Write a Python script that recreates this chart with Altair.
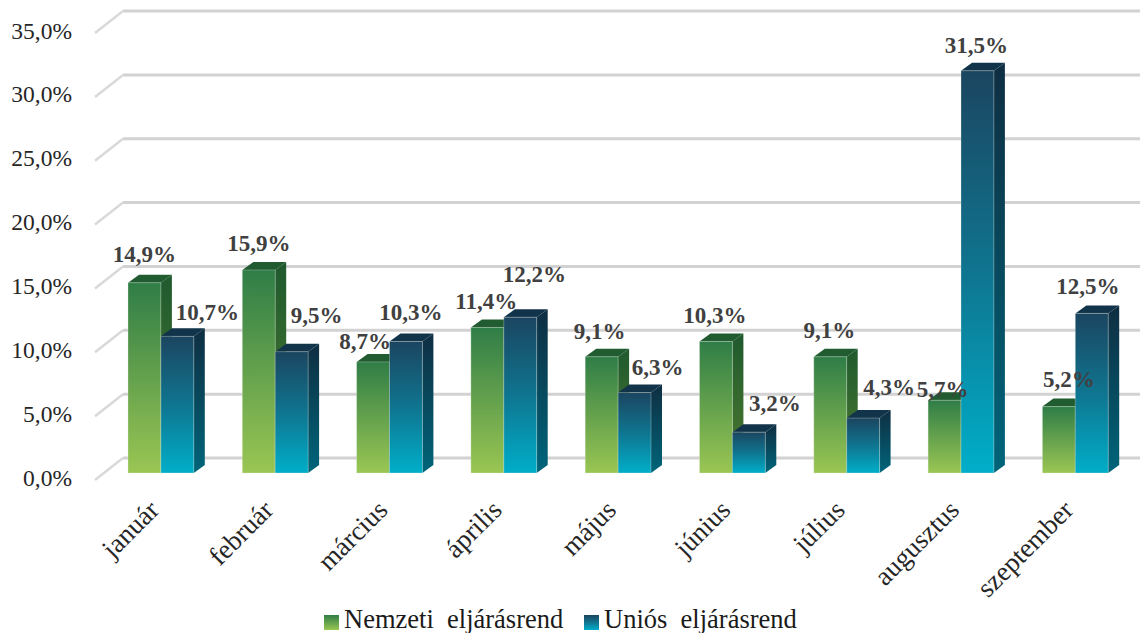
import altair as alt
import pandas as pd

months = ["január", "február", "március", "április", "május", "június", "július", "augusztus", "szeptember"]
nemzeti = [14.9, 15.9, 8.7, 11.4, 9.1, 10.3, 9.1, 5.7, 5.2]
unios = [10.7, 9.5, 10.3, 12.2, 6.3, 3.2, 4.3, 31.5, 12.5]
y_ticks = [0, 5, 10, 15, 20, 25, 30, 35]

SERIF = "Liberation Serif"
WIDTH, HEIGHT = 1140, 633

# pixel lengths of one group and one percent; the scales below are set up from them
GROUP_PX, PCT_PX = 114.3, 12.77
FIRST_BAR_PX, BASE_PX = 128.0, 473.0


def gx(px):
    return px / GROUP_PX


def gy(px):
    return px / PCT_PX


BAR_W = gx(32.9)
DEPTH_X, DEPTH_Y = gx(11), gy(8)
WALL_X, WALL_Y = gx(-5), gy(15)        # back wall relative to the bars' front
FRONT_X, FRONT_Y = gx(-33), gy(-7)     # front edge of the floor and side wall

x_scale = alt.Scale(domain=[-FIRST_BAR_PX / GROUP_PX, (WIDTH - FIRST_BAR_PX) / GROUP_PX], nice=False, zero=False)
y_scale = alt.Scale(domain=[(BASE_PX - HEIGHT) / PCT_PX, BASE_PX / PCT_PX], nice=False, zero=False)


def grad(*stops):
    return alt.Gradient(
        gradient="linear", x1=0, x2=0, y1=0, y2=1,
        stops=[alt.GradientStop(color=c, offset=o) for o, c in stops],
    )


GREEN_FRONT = grad((0, "#2f7d47"), (1, "#9ac653"))
GREEN_SIDE = grad((0, "#1f5a2e"), (1, "#4f7a2e"))
GREEN_TOP = "#215c30"
BLUE_FRONT = grad((0, "#1b4560"), (0.5, "#0f7590"), (1, "#00aec9"))
BLUE_SIDE = grad((0, "#0f2e42"), (1, "#00657a"))
BLUE_TOP = "#12344a"

X = lambda f="x": alt.X(f"{f}:Q", scale=x_scale, axis=None)
Y = lambda f="y": alt.Y(f"{f}:Q", scale=y_scale, axis=None)


def bar_layers(values, offset, front, side, top):
    """Front, side and top faces of one series' 3D columns."""
    fronts, sides, tops = [], [], []
    for i, v in enumerate(values):
        left = i + offset
        right = left + BAR_W
        fronts.append({"x": left, "x2": right, "y": v, "y2": 0})
        sides += [
            {"bar": i, "x": right, "y": v, "y2": 0},
            {"bar": i, "x": right + DEPTH_X, "y": v + DEPTH_Y, "y2": DEPTH_Y},
        ]
        tops += [
            {"bar": i, "x": left, "y": v, "y2": v},
            {"bar": i, "x": left + DEPTH_X, "y": v + DEPTH_Y, "y2": v},
            {"bar": i, "x": right, "y": v + DEPTH_Y, "y2": v},
            {"bar": i, "x": right + DEPTH_X, "y": v + DEPTH_Y, "y2": v + DEPTH_Y},
        ]
    side_layer = alt.Chart(pd.DataFrame(sides)).mark_area(color=side, orient="vertical").encode(
        x=X(), y=Y(), y2="y2:Q", detail="bar:N")
    top_layer = alt.Chart(pd.DataFrame(tops)).mark_area(color=top, orient="vertical").encode(
        x=X(), y=Y(), y2="y2:Q", detail="bar:N")
    front_layer = alt.Chart(pd.DataFrame(fronts)).mark_rect(
        color=front, stroke="#e8efe0", strokeWidth=1, strokeOpacity=0.3,
    ).encode(x=X(), x2="x2:Q", y=Y(), y2="y2:Q")
    return [side_layer, top_layer, front_layer]


# Gridlines on the back wall, and the slanted part on the side wall
grid_h = pd.DataFrame({
    "x": [WALL_X] * len(y_ticks),
    "x2": [(WIDTH - FIRST_BAR_PX) / GROUP_PX] * len(y_ticks),
    "y": [t + WALL_Y for t in y_ticks],
})
grid_d = pd.DataFrame({
    "x": [FRONT_X] * len(y_ticks),
    "x2": [WALL_X] * len(y_ticks),
    "y": [t + FRONT_Y for t in y_ticks],
    "y2": [t + WALL_Y for t in y_ticks],
})
grid_layers = [
    alt.Chart(grid_h).mark_rule(color="#d2d2d2", strokeWidth=3).encode(x=X(), x2="x2:Q", y=Y()),
    alt.Chart(grid_d).mark_rule(color="#d9d9d9", strokeWidth=2.5).encode(x=X(), x2="x2:Q", y=Y(), y2="y2:Q"),
]

# Percent labels down the left side, sitting just under each tick's level
tick_layer = alt.Chart(pd.DataFrame({
    "y": [t - gy(5.5) for t in y_ticks],
    "label": [f"{t:.1f}%".replace(".", ",") for t in y_ticks],
})).mark_text(font=SERIF, fontSize=23.5, color="#262626", align="right", baseline="middle").encode(
    x=alt.value(72), y=Y(), text="label:N")

# Hand placement of the value labels, in pixels from the column's top centre
green_shift = [(0, -28), (0, -26), (-8, -20), (-1, -25), (-2, -25), (-1, -25), (-1, -26), (-2, -10), (10, -27)]
blue_shift = [(30, -23), (25, -36), (5, -28), (14, -42), (23, -25), (26, -28), (26, -30), (-1, -25), (-4, -26)]


def value_labels(values, offset, shift):
    rows = []
    for i, (v, (dx, dy)) in enumerate(zip(values, shift)):
        rows.append({
            "x": i + offset + BAR_W / 2 + gx(dx),
            "y": v - gy(dy),
            "label": f"{v:.1f}%".replace(".", ","),
        })
    return alt.Chart(pd.DataFrame(rows)).mark_text(
        font=SERIF, fontSize=23, fontWeight="bold", color="#404040", baseline="middle", align="center",
    ).encode(x=X(), y=Y(), text="label:N")


# Month names, rotated and ending under the middle of each group
month_layer = alt.Chart(pd.DataFrame({
    "x": [i + BAR_W - gx(6) for i in range(len(months))],
    "y": [-gy(33)] * len(months),
    "month": months,
})).mark_text(font=SERIF, fontSize=27, color="#262626", angle=315, align="right", baseline="middle").encode(
    x=X(), y=Y(), text="month:N")


# Legend swatches and entries
def legend_entry(label, swatch_px, fill, text_px):
    swatch = alt.Chart(pd.DataFrame({"k": [label]})).mark_rect(color=fill).encode(
        x=alt.value(swatch_px), x2=alt.value(swatch_px + 15),
        y=alt.value(615), y2=alt.value(630))
    text = alt.Chart(pd.DataFrame({"k": [label]})).mark_text(
        font=SERIF, fontSize=26.5, color="#1a1a1a", align="left", baseline="alphabetic",
    ).encode(x=alt.value(text_px), y=alt.value(628), text="k:N")
    return [swatch, text]


layers = list(grid_layers)
layers += bar_layers(nemzeti, 0, GREEN_FRONT, GREEN_SIDE, GREEN_TOP)
layers += bar_layers(unios, BAR_W, BLUE_FRONT, BLUE_SIDE, BLUE_TOP)
layers += [tick_layer, value_labels(nemzeti, 0, green_shift), value_labels(unios, BAR_W, blue_shift), month_layer]
layers += legend_entry("Nemzeti\u00a0\u00a0eljárásrend", 324, GREEN_FRONT, 344)
layers += legend_entry("Uniós\u00a0\u00a0eljárásrend", 584, BLUE_FRONT, 604)

chart = alt.layer(*layers).properties(
    width=WIDTH, height=HEIGHT,
    autosize=alt.AutoSizeParams(type="none"),
    padding=0,
    background="white",
).configure_view(stroke=None)

chart.save("out.html", embed_options={"renderer": "svg", "actions": False})
